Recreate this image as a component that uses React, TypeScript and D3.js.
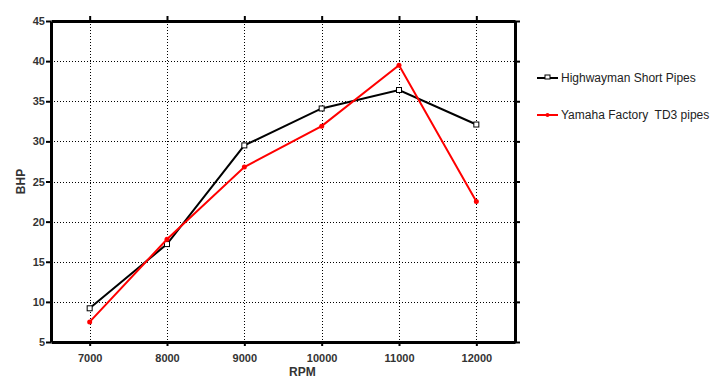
import { useRef, useEffect } from 'react'
import * as d3 from 'd3'

const WIDTH = 718
const HEIGHT = 392
const MARGIN = { top: 21, right: 203, bottom: 50, left: 51 }

const RPM = [7000, 8000, 9000, 10000, 11000, 12000]
const HIGHWAYMAN = [9.2, 17.2, 29.5, 34.1, 36.4, 32.1]
const YAMAHA = [7.5, 17.8, 26.8, 31.9, 39.5, 22.5]
const Y_TICKS = [5, 10, 15, 20, 25, 30, 35, 40, 45]
const SERIES_NAMES = ['Highwayman Short Pipes', 'Yamaha Factory  TD3 pipes']

export default function App() {
  const svgRef = useRef<SVGSVGElement>(null)

  useEffect(() => {
    if (!svgRef.current) return
    const svg = d3.select(svgRef.current)
    svg.selectAll('*').remove()

    const innerWidth = WIDTH - MARGIN.left - MARGIN.right
    const innerHeight = HEIGHT - MARGIN.top - MARGIN.bottom
    const g = svg.append('g').attr('transform', `translate(${MARGIN.left},${MARGIN.top})`)

    const x = d3.scaleLinear().domain([6500, 12500]).range([0, innerWidth])
    const y = d3.scaleLinear().domain([5, 45]).range([innerHeight, 0])

    // dotted grid
    g.append('g')
      .selectAll('line')
      .data(RPM)
      .join('line')
      .attr('x1', (d) => Math.round(x(d)) + 0.5)
      .attr('x2', (d) => Math.round(x(d)) + 0.5)
      .attr('y1', 0)
      .attr('y2', innerHeight)
      .attr('stroke', '#000')
      .attr('stroke-dasharray', '1,2')
    g.append('g')
      .selectAll('line')
      .data(Y_TICKS.slice(1, -1))
      .join('line')
      .attr('y1', (d) => Math.round(y(d)) + 0.5)
      .attr('y2', (d) => Math.round(y(d)) + 0.5)
      .attr('x1', 0)
      .attr('x2', innerWidth)
      .attr('stroke', '#000')
      .attr('stroke-dasharray', '1,2')

    const styleAxis = (sel: d3.Selection<SVGGElement, unknown, null, undefined>) => {
      sel.select('.domain').attr('stroke', '#000').attr('stroke-width', 3)
      sel.selectAll('.tick line').attr('stroke', '#000').attr('stroke-width', 2)
      sel
        .selectAll('.tick text')
        .attr('font-family', 'Arial, "Liberation Sans", sans-serif')
        .attr('font-size', '11px')
        .attr('font-weight', 'bold')
        .attr('fill', '#333')
    }

    g.append('g')
      .attr('transform', `translate(0,${innerHeight})`)
      .call(d3.axisBottom(x).tickValues(RPM).tickSize(4).tickSizeOuter(0).tickPadding(8).tickFormat(d3.format('d')))
      .call(styleAxis)
    g.append('g')
      .call(d3.axisTop(x).tickValues(RPM).tickSize(5).tickSizeOuter(0).tickFormat(() => ''))
      .call(styleAxis)
    g.append('g')
      .call(d3.axisLeft(y).tickValues(Y_TICKS).tickSize(5).tickSizeOuter(0).tickPadding(1))
      .call(styleAxis)
    g.append('g')
      .attr('transform', `translate(${innerWidth},0)`)
      .call(d3.axisRight(y).tickValues(Y_TICKS).tickSize(5).tickSizeOuter(0).tickFormat(() => ''))
      .call(styleAxis)

    const line = d3
      .line<number>()
      .x((_d, i) => x(RPM[i]))
      .y((d) => y(d))

    g.append('path')
      .datum(HIGHWAYMAN)
      .attr('d', line)
      .attr('fill', 'none')
      .attr('stroke', '#000')
      .attr('stroke-width', 2)
    g.selectAll('.hw-pt')
      .data(HIGHWAYMAN)
      .join('rect')
      .attr('class', 'hw-pt')
      .attr('x', (_d, i) => x(RPM[i]) - 2.5)
      .attr('y', (d) => y(d) - 2.5)
      .attr('width', 5)
      .attr('height', 5)
      .attr('fill', '#fff')
      .attr('stroke', '#000')
      .attr('stroke-width', 1)

    g.append('path')
      .datum(YAMAHA)
      .attr('d', line)
      .attr('fill', 'none')
      .attr('stroke', '#ff0000')
      .attr('stroke-width', 2)
    g.selectAll('.ym-pt')
      .data(YAMAHA)
      .join('circle')
      .attr('class', 'ym-pt')
      .attr('cx', (_d, i) => x(RPM[i]))
      .attr('cy', (d) => y(d))
      .attr('r', 2.5)
      .attr('fill', '#ff0000')

    // axis titles
    svg
      .append('text')
      .attr('x', MARGIN.left + x(9750))
      .attr('y', 376)
      .attr('text-anchor', 'middle')
      .attr('font-family', 'Arial, "Liberation Sans", sans-serif')
      .attr('font-size', '12px')
      .attr('font-weight', 'bold')
      .attr('fill', '#333')
      .text('RPM')
    svg
      .append('text')
      .attr('transform', `translate(25,${MARGIN.top + y(25)}) rotate(-90)`)
      .attr('text-anchor', 'middle')
      .attr('font-family', 'Arial, "Liberation Sans", sans-serif')
      .attr('font-size', '12px')
      .attr('font-weight', 'bold')
      .attr('fill', '#333')
      .text('BHP')

    // legend
    const legend = svg.append('g').attr('transform', 'translate(537,78)')
    const colors = ['#000', '#ff0000']
    SERIES_NAMES.forEach((name, i) => {
      const row = legend.append('g').attr('transform', `translate(0,${i * 37})`)
      row.append('line').attr('x1', 0).attr('x2', 21).attr('stroke', colors[i]).attr('stroke-width', 2)
      if (i === 0) {
        row.append('rect').attr('x', 8).attr('y', -3).attr('width', 5).attr('height', 4).attr('fill', '#fff').attr('stroke', '#000')
      } else {
        row.append('circle').attr('cx', 10.5).attr('cy', 0).attr('r', 2).attr('fill', '#ff0000')
      }
      row
        .append('text')
        .attr('x', 24)
        .attr('y', 4)
        .style('white-space', 'pre')
        .attr('font-family', 'Arial, "Liberation Sans", sans-serif')
        .attr('font-size', '12px')
        .attr('fill', '#222')
        .text(name)
    })
  }, [])

  return (
    <div style={{ position: 'absolute', left: 0, top: 0 }}>
      <svg ref={svgRef} width={WIDTH} height={HEIGHT} style={{ display: 'block', background: '#fff' }} />
    </div>
  )
}
